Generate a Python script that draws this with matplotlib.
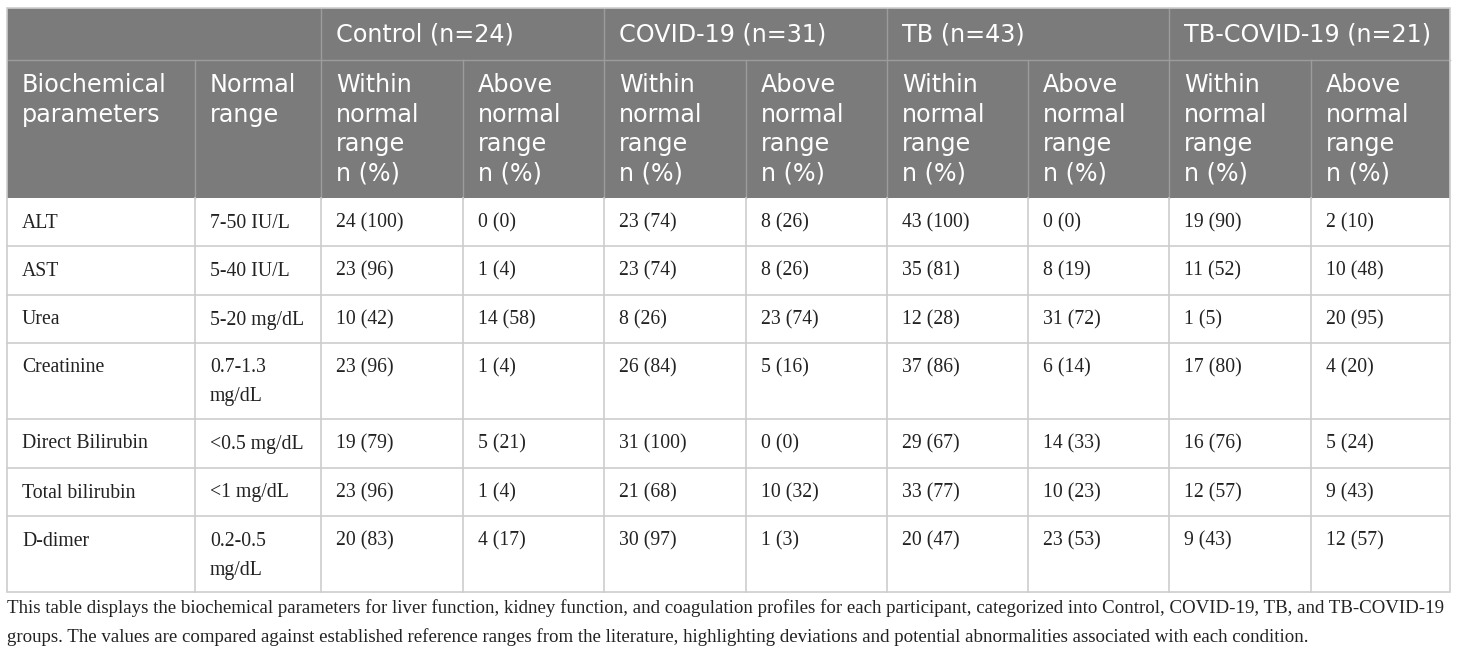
import matplotlib
matplotlib.use("Agg")
import matplotlib.pyplot as plt
from matplotlib.patches import Rectangle

# ---- table content ----
params = ["ALT", "AST", "Urea", "Creatinine", "Direct Bilirubin",
          "Total bilirubin", "D-dimer"]
normal_ranges = ["7-50 IU/L", "5-40 IU/L", "5-20 mg/dL", "0.7-1.3\nmg/dL",
                 "<0.5 mg/dL", "<1 mg/dL", "0.2-0.5\nmg/dL"]
groups = ["Control (n=24)", "COVID-19 (n=31)", "TB (n=43)", "TB-COVID-19 (n=21)"]

control_within = [(24, 100), (23, 96), (10, 42), (23, 96), (19, 79), (23, 96), (20, 83)]
control_above = [(0, 0), (1, 4), (14, 58), (1, 4), (5, 21), (1, 4), (4, 17)]
covid_within = [(23, 74), (23, 74), (8, 26), (26, 84), (31, 100), (21, 68), (30, 97)]
covid_above = [(8, 26), (8, 26), (23, 74), (5, 16), (0, 0), (10, 32), (1, 3)]
tb_within = [(43, 100), (35, 81), (12, 28), (37, 86), (29, 67), (33, 77), (20, 47)]
tb_above = [(0, 0), (8, 19), (31, 72), (6, 14), (14, 33), (10, 23), (23, 53)]
tbcov_within = [(19, 90), (11, 52), (1, 5), (17, 80), (16, 76), (12, 57), (9, 43)]
tbcov_above = [(2, 10), (10, 48), (20, 95), (4, 20), (5, 24), (9, 43), (12, 57)]

sub_header = ["Within\nnormal\nrange\nn (%)", "Above\nnormal\nrange\nn (%)"]
first_headers = ["Biochemical\nparameters", "Normal\nrange"]

caption = ("This table displays the biochemical parameters for liver function, kidney function, "
           "and coagulation profiles for each participant, categorized into Control, COVID-19, TB, and TB-COVID-19\n"
           "groups. The values are compared against established reference ranges from the literature, "
           "highlighting deviations and potential abnormalities associated with each condition.")

# ---- layout (pixels) ----
col_edges = [7, 195, 321, 463, 604, 746, 887, 1028, 1169, 1311, 1450]
row_edges = [7.5, 59.5, 198, 246, 295, 343, 419, 468, 516, 592]
pad = 15
head_bg = "#7b7b7b"
head_line = "#9c9c9c"
body_line = "#cdcdcd"
sans = "DejaVu Sans"
serif = "Liberation Serif"

fig = plt.figure(figsize=(14.6, 6.54), dpi=100)
ax = fig.add_axes([0, 0, 1, 1])
ax.set_xlim(0, 1460)
ax.set_ylim(654, 0)
ax.axis("off")

x0, x1 = col_edges[0], col_edges[-1]
# header background
ax.add_patch(Rectangle((x0, row_edges[0]), x1 - x0, row_edges[2] - row_edges[0],
                       facecolor=head_bg, edgecolor="none", zorder=1))

def write_lines(x, top, text, off, step, **kw):
    for i, line in enumerate(text.split("\n")):
        ax.text(x, top + off + i * step, line, ha="left", va="center", **kw)

# group header row
for g, name in enumerate(groups):
    xl = col_edges[2 + 2 * g]
    write_lines(xl + pad, row_edges[0], name, 27, 29.5, family=sans, fontsize=17.2,
                color="white", zorder=3)

# second header row
hdr = first_headers + sub_header * 4
for c, t in enumerate(hdr):
    write_lines(col_edges[c] + pad, row_edges[1], t, 26, 29.5, family=sans,
                fontsize=17.2, color="white", zorder=3)

# body
columns = [control_within, control_above, covid_within, covid_above,
           tb_within, tb_above, tbcov_within, tbcov_above]
for r in range(len(params)):
    top = row_edges[2 + r]
    cells = [params[r], normal_ranges[r]] + ["%d (%d)" % col[r] for col in columns]
    for c, t in enumerate(cells):
        write_lines(col_edges[c] + pad, top, t, 25, 29, family=serif,
                    fontsize=14.2, color="#222222", zorder=3)

# header grid lines
ax.plot([x0, x1], [row_edges[1]] * 2, color=head_line, lw=1, zorder=2)
for g in range(4):
    xe = col_edges[2 + 2 * g]
    ax.plot([xe, xe], [row_edges[0], row_edges[2]], color=head_line, lw=1, zorder=2)
for xe in [col_edges[1]] + col_edges[3:-1:2]:
    ax.plot([xe, xe], [row_edges[1], row_edges[2]], color=head_line, lw=1, zorder=2)

# body grid lines
for ye in row_edges[3:-1]:
    ax.plot([x0, x1], [ye, ye], color=body_line, lw=1.2, zorder=2)
for xe in col_edges[1:-1]:
    ax.plot([xe, xe], [row_edges[2], row_edges[-1]], color=body_line, lw=1.2, zorder=2)

# outer border
ax.add_patch(Rectangle((x0, row_edges[0]), x1 - x0, row_edges[-1] - row_edges[0],
                       facecolor="none", edgecolor=body_line, lw=1.2, zorder=4))

# caption
write_lines(x0, row_edges[-1], caption, 16, 29, family=serif, fontsize=13.6,
            color="#222222")

fig.savefig("out.png", dpi=100)
